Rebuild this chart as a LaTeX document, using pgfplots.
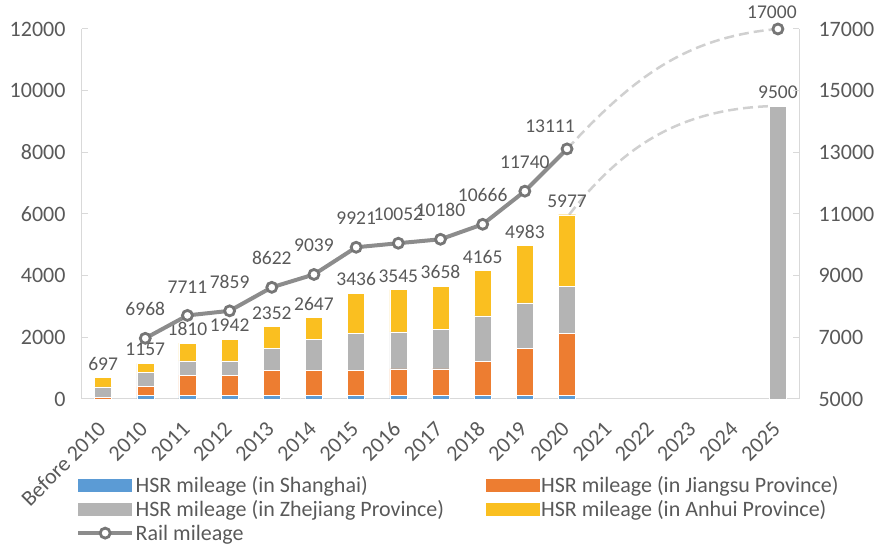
\documentclass[border=0pt]{standalone}
\usepackage{fontspec}
\setmainfont{Carlito}
\usepackage{pgfplots}
\usepackage{pgfplotstable}
\pgfplotsset{compat=1.18}
\usetikzlibrary{calc}
\definecolor{cBlue}{HTML}{5B9BD5}
\definecolor{cOrange}{HTML}{ED7D31}
\definecolor{cGrey}{HTML}{B4B4B4}
\definecolor{cYellow}{HTML}{FABF20}
\definecolor{cLine}{HTML}{8C8C8C}
\definecolor{cMark}{HTML}{767676}
\definecolor{cText}{HTML}{595959}
\definecolor{cAxis}{HTML}{D9D9D9}
\definecolor{cDash}{HTML}{D0D0D0}
\tikzset{lbl/.style={font=\fontsize{19.5}{23}\selectfont, text=cText, inner sep=0pt, anchor=south}}
\pgfplotsset{/pgf/number format/assume math mode=true,
  barleg/.style={legend image code/.code={\fill[##1,draw=none] (0pt,-6.5pt) rectangle (54pt,6.5pt);}},
  railleg/.style={legend image code/.code={\draw[cLine,line width=4pt] (0pt,0pt) -- (54pt,0pt);
     \draw[cMark,fill=white,line width=2.8pt] (27pt,0pt) circle (5pt);}}}

\pgfplotstableread{
x sh js zj ah total
0 0 45 345 307 697
1 108 292 454 303 1157
2 120 658 455 577 1810
3 120 658 455 709 1942
4 120 800 724 708 2352
5 120 800 1016 711 2647
6 120 820 1200 1296 3436
7 120 853 1200 1372 3545
8 120 853 1287 1398 3658
9 120 1102 1470 1473 4165
10 120 1523 1471 1869 4983
11 120 2010 1524 2323 5977
16 0 0 9500 0 9500
}\hsr

\pgfplotstableread{
x rail
1 6968
2 7711
3 7859
4 8622
5 9039
6 9921
7 10052
8 10180
9 10666
10 11740
11 13111
}\rail

\pgfplotstableread{
x rail
1 6968
2 7711
3 7859
4 8622
5 9039
6 9921
7 10052
8 10180
9 10666
10 11740
}\railmid

\begin{document}
\begin{tikzpicture}
\begin{axis}[name=ax,
  scale only axis, width=717pt, height=370pt,
  xmin=-0.5, xmax=16.5, ymin=0, ymax=12000,
  axis x line*=bottom, axis y line*=left,
  axis line style={-, draw=cAxis, line width=1pt},
  xtick={0,...,16},
  xticklabels={Before 2010,2010,2011,2012,2013,2014,2015,2016,2017,2018,2019,2020,2021,2022,2023,2024,2025},
  xticklabel style={yshift=-24pt, xshift=1pt, rotate=45, anchor=east, font=\fontsize{22}{26}\selectfont, text=cText},
  x tick style={draw=none},
  ytick={0,2000,...,12000}, scaled y ticks=false,
  y tick style={draw=cAxis, line width=1pt},
  tick align=inside, major tick length=6pt,
  yticklabel style={font=\fontsize{22}{26}\selectfont, text=cText, xshift=-13pt,
    /pgf/number format/fixed, /pgf/number format/1000 sep={}},
  ybar stacked, bar width=17pt,
  legend columns=2,
  legend style={at={(-0.0084,-0.205)}, anchor=north west, draw=none, fill=none,
    font=\fontsize{22}{26}\selectfont, text=cText, inner sep=0pt, row sep=3.5pt,
    /tikz/every even column/.append style={column sep=40pt},
    nodes={inner sep=1.5pt, anchor=west}},
]
\addplot[barleg, fill=cBlue, draw=white, line width=0.4pt] table[x=x,y=sh]{\hsr};
\addlegendentry{HSR mileage (in Shanghai)}
\addplot[barleg, fill=cOrange, draw=white, line width=0.4pt] table[x=x,y=js]{\hsr};
\addlegendentry{HSR mileage (in Jiangsu Province)}
\addplot[barleg, fill=cGrey, draw=white, line width=0.4pt] table[x=x,y=zj]{\hsr};
\addlegendentry{HSR mileage (in Zhejiang Province)}
\addplot[barleg, fill=cYellow, draw=white, line width=0.4pt] table[x=x,y=ah]{\hsr};
\addlegendentry{HSR mileage (in Anhui Province)}
\addlegendimage{railleg}
\addlegendentry{Rail mileage}
\draw[cDash, line width=2.5pt, dash pattern=on 10pt off 5pt] (axis cs:11.05,5977) to[out=52,in=182] (axis cs:15.85,9500);
\end{axis}

% bar totals (same scale as left axis)
\begin{axis}[
  scale only axis, width=717pt, height=370pt,
  xmin=-0.5, xmax=16.5, ymin=0, ymax=12000, hide axis,
]
\addplot[draw=none, mark=none, point meta=explicit,
  nodes near coords={\pgfmathprintnumber[fixed,precision=0,1000 sep={}]{\pgfplotspointmeta}},
  every node near coord/.append style={lbl, yshift=7pt}]
  table[x=x,y=total,meta=total]{\hsr};
\end{axis}

\begin{axis}[
  scale only axis, width=717pt, height=370pt,
  xmin=-0.5, xmax=16.5, ymin=5000, ymax=17000,
  axis x line=none, axis y line*=right,
  axis line style={-, draw=cAxis, line width=1pt},
  ytick={5000,7000,...,17000}, scaled y ticks=false,
  y tick style={draw=cAxis, line width=1pt},
  tick align=inside, major tick length=6pt,
  yticklabel style={font=\fontsize{22}{26}\selectfont, text=cText, anchor=west, xshift=16pt,
    /pgf/number format/fixed, /pgf/number format/1000 sep={}},
  every node near coord/.append style={lbl},
]
\draw[cDash, line width=2.5pt, dash pattern=on 10pt off 5pt] (axis cs:11,13111) to[out=47,in=185] (axis cs:16,17000);
\addplot[cLine, line width=4pt, no markers] table[x=x,y=rail]{\rail};
\addplot[only marks, mark=*, mark size=5pt, mark options={fill=white, draw=cMark, line width=2.8pt},
  point meta=y, nodes near coords={\pgfmathprintnumber[fixed,precision=0,1000 sep={}]{\pgfplotspointmeta}},
  every node near coord/.append style={yshift=21pt}] table[x=x,y=rail]{\railmid};
\addplot[only marks, mark=*, mark size=5pt, mark options={fill=white, draw=cMark, line width=2.8pt},
  point meta=y, nodes near coords={\pgfmathprintnumber[fixed,precision=0,1000 sep={}]{\pgfplotspointmeta}},
  every node near coord/.append style={yshift=15pt, xshift=-17pt}] coordinates {(11,13111)};
\addplot[only marks, mark=*, mark size=5pt, mark options={fill=white, draw=cMark, line width=2.8pt},
  point meta=y, nodes near coords={\pgfmathprintnumber[fixed,precision=0,1000 sep={}]{\pgfplotspointmeta}},
  every node near coord/.append style={yshift=9pt, xshift=-6pt}] coordinates {(16,17000)};
\end{axis}
\pgfresetboundingbox
\path[use as bounding box] ($(ax.south west)+(-82pt,-149pt)$) rectangle ($(ax.north east)+(81pt,29pt)$);
\end{tikzpicture}
\end{document}
